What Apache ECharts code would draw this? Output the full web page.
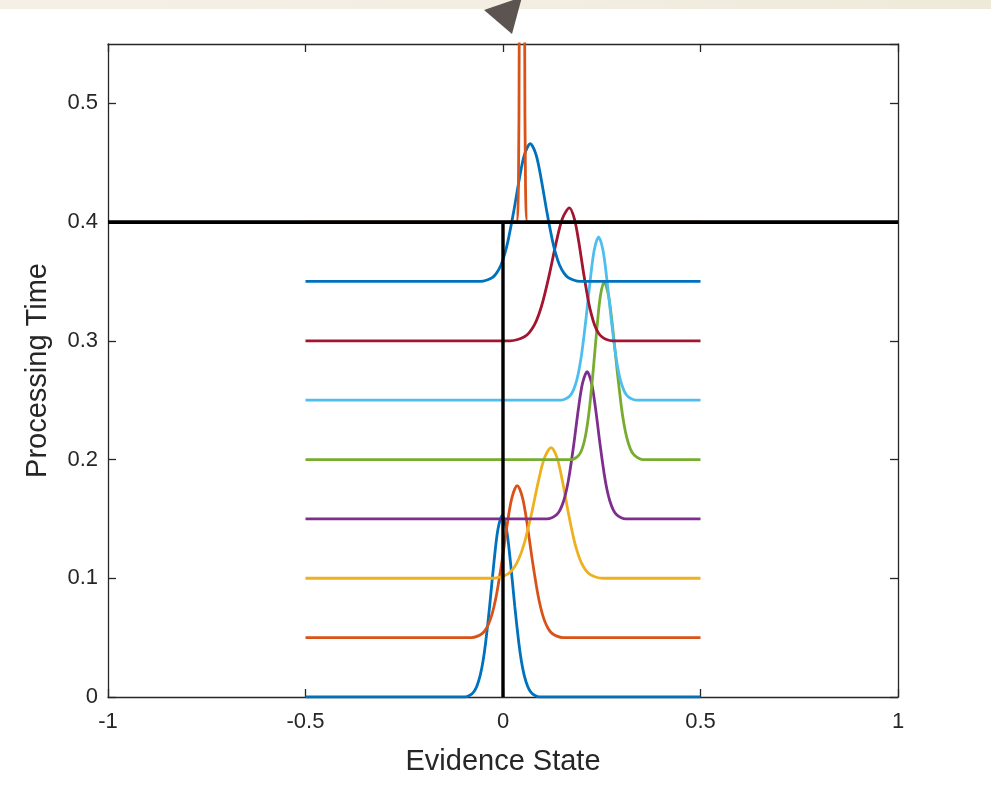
<!DOCTYPE html>
<html><head><meta charset="utf-8">
<script src="https://cdn.jsdelivr.net/npm/echarts@6/dist/echarts.min.js"></script>
<style>html,body{margin:0;padding:0;background:#fff}#c{width:991px;height:808px}</style>
</head><body><div id="c"></div>
<script>
// Axis tick values
const xTicks = [-1, -0.5, 0, 0.5, 1];
const yTicks = [0, 0.1, 0.2, 0.3, 0.4, 0.5];
const xName = 'Evidence State';
const yName = 'Processing Time';

// Evidence distributions at successive processing times (x = evidence, y = time + density)
const curveT0 = [[-0.5,0],[-0.097,0],[-0.0839,0.0015],[-0.0735,0.0046],[-0.066,0.0092],[-0.0576,0.0184],[-0.0504,0.0306],[-0.0439,0.0459],[-0.0338,0.0765],[-0.0225,0.1148],[-0.013,0.1408],[-0.002,0.153],[0.009,0.1408],[0.0185,0.1148],[0.0298,0.0765],[0.0399,0.0459],[0.0464,0.0306],[0.0536,0.0184],[0.062,0.0092],[0.0695,0.0046],[0.0799,0.0015],[0.093,0],[0.5,0]];
const curveT1 = [[-0.5,0.05],[-0.080,0.05],[-0.0642,0.0513],[-0.0514,0.0538],[-0.0423,0.0577],[-0.0319,0.0654],[-0.0232,0.0756],[-0.0152,0.0884],[-0.0028,0.114],[0.011,0.146],[0.0225,0.1678],[0.036,0.178],[0.0495,0.1678],[0.061,0.146],[0.0748,0.114],[0.0872,0.0884],[0.0952,0.0756],[0.1039,0.0654],[0.1143,0.0577],[0.1234,0.0538],[0.1362,0.0513],[0.152,0.05],[0.5,0.05]];
const curveT2 = [[-0.5,0.1],[-0.025,0.1],[-0.0055,0.1011],[0.0108,0.1033],[0.0224,0.1066],[0.0355,0.1132],[0.0467,0.122],[0.0568,0.133],[0.0726,0.155],[0.0901,0.1825],[0.1049,0.2012],[0.122,0.21],[0.1371,0.2012],[0.1501,0.1825],[0.1655,0.155],[0.1794,0.133],[0.1884,0.122],[0.1982,0.1132],[0.2098,0.1066],[0.22,0.1033],[0.2343,0.1011],[0.252,0.1],[0.5,0.1]];
const curveT3 = [[-0.5,0.15],[0.111,0.15],[0.125,0.1512],[0.1362,0.1537],[0.1442,0.1574],[0.1533,0.1649],[0.161,0.1748],[0.168,0.1872],[0.1789,0.212],[0.191,0.243],[0.2012,0.2641],[0.213,0.274],[0.2244,0.2641],[0.2343,0.243],[0.246,0.212],[0.2565,0.1872],[0.2632,0.1748],[0.2707,0.1649],[0.2794,0.1574],[0.2871,0.1537],[0.298,0.1512],[0.311,0.15],[0.5,0.15]];
const curveT4 = [[-0.5,0.2],[0.174,0.2],[0.1847,0.2015],[0.1938,0.2045],[0.2003,0.209],[0.2076,0.218],[0.2138,0.2299],[0.2195,0.2449],[0.2283,0.2748],[0.2382,0.3122],[0.2464,0.3376],[0.256,0.3496],[0.2674,0.3376],[0.2773,0.3122],[0.289,0.2748],[0.2995,0.2449],[0.3062,0.2299],[0.3137,0.218],[0.3224,0.209],[0.3301,0.2045],[0.341,0.2015],[0.354,0.2],[0.5,0.2]];
const curveT5 = [[-0.5,0.25],[0.147,0.25],[0.1601,0.2514],[0.1705,0.2541],[0.178,0.2583],[0.1864,0.2665],[0.1936,0.2775],[0.2001,0.2913],[0.2102,0.3188],[0.2215,0.3531],[0.231,0.3765],[0.242,0.3875],[0.253,0.3765],[0.2625,0.3531],[0.2738,0.3188],[0.2839,0.2913],[0.2904,0.2775],[0.2976,0.2665],[0.306,0.2583],[0.3135,0.2541],[0.3239,0.2514],[0.337,0.25],[0.5,0.25]];
const curveT6 = [[-0.5,0.3],[0.018,0.3],[0.0375,0.3011],[0.0541,0.3034],[0.066,0.3067],[0.0795,0.3134],[0.0909,0.3224],[0.1013,0.3336],[0.1174,0.356],[0.1354,0.384],[0.1505,0.403],[0.168,0.412],[0.1806,0.403],[0.1915,0.384],[0.2045,0.356],[0.2161,0.3336],[0.2236,0.3224],[0.2318,0.3134],[0.2415,0.3067],[0.2501,0.3034],[0.2621,0.3011],[0.277,0.3],[0.5,0.3]];
const curveT7 = [[-0.5,0.35],[-0.057,0.35],[-0.0403,0.3512],[-0.0263,0.3535],[-0.0164,0.357],[-0.0051,0.3639],[0.0044,0.3732],[0.0131,0.3848],[0.0266,0.408],[0.0417,0.437],[0.0543,0.4567],[0.069,0.466],[0.0837,0.4567],[0.0963,0.437],[0.1114,0.408],[0.1249,0.3848],[0.1336,0.3732],[0.1431,0.3639],[0.1544,0.357],[0.1643,0.3535],[0.1783,0.3512],[0.195,0.35],[0.5,0.35]];
const curveT8 = [[-0.5,0.4],[0.026,0.4],[0.034,0.4],[0.039,0.43],[0.041,0.55],[0.043,0.75],[0.048,0.9],[0.053,0.75],[0.055,0.55],[0.057,0.43],[0.062,0.4],[0.07,0.4],[0.5,0.4]];

// Reference lines
const timeLine = [[-1,0.4],[1,0.4]];
const zeroLine = [[0,0],[0,0.4]];

const curves = [curveT0, curveT1, curveT2, curveT3, curveT4, curveT5, curveT6, curveT7, curveT8];
const colors = ['#0072BD','#D95319','#EDB120','#7E2F8E','#77AC30','#4DBEEE','#A2142F','#0072BD','#D95319'];

const axisColor = '#262626';
const font = "'Liberation Sans', Arial, Helvetica, sans-serif";

const chart = echarts.init(document.getElementById('c'), null, {renderer: 'canvas'});

const series = curves.map((d, i) => ({
  type: 'line', data: d, smooth: 0.3, showSymbol: false, symbol: 'none',
  lineStyle: {color: colors[i], width: 2.8}, itemStyle: {color: colors[i]},
  clip: true, z: 3, silent: true
}));
series.push({type: 'line', data: timeLine, showSymbol: false, symbol: 'none',
  lineStyle: {color: '#000', width: 3.6}, z: 5, silent: true});
series.push({type: 'line', data: zeroLine, showSymbol: false, symbol: 'none',
  lineStyle: {color: '#000', width: 3.4}, z: 5, silent: true});

const baseAxis = {
  axisLine: {show: true, onZero: false, lineStyle: {color: axisColor, width: 1.3}},
  axisTick: {show: true, inside: true, length: 8, lineStyle: {color: axisColor, width: 1.3}},
  splitLine: {show: false}
};

chart.setOption({
  animation: false,
  backgroundColor: '#fff',
  grid: {left: 108, right: 93, top: 44, bottom: 111, containLabel: false},
  xAxis: [
    Object.assign({}, baseAxis, {
      type: 'value', min: xTicks[0], max: xTicks[xTicks.length-1], interval: 0.5, position: 'bottom',
      name: xName, nameLocation: 'middle', nameGap: 50,
      nameTextStyle: {fontFamily: font, fontSize: 29, color: axisColor},
      axisLabel: {show: true, margin: 14, fontFamily: font, fontSize: 22, color: axisColor,
        formatter: v => String(v)}
    }),
    Object.assign({}, baseAxis, {
      type: 'value', min: xTicks[0], max: xTicks[xTicks.length-1], interval: 0.5, position: 'top',
      axisLabel: {show: false}
    })
  ],
  yAxis: [
    Object.assign({}, baseAxis, {
      type: 'value', min: yTicks[0], max: 0.55, interval: 0.1, position: 'left',
      name: yName, nameLocation: 'middle', nameGap: 56, nameRotate: 90,
      nameTextStyle: {fontFamily: font, fontSize: 29, color: axisColor},
      axisLabel: {show: true, margin: 10, fontFamily: font, fontSize: 22, color: axisColor,
        showMaxLabel: false, formatter: v => String(Math.round(v*10)/10)}
    }),
    Object.assign({}, baseAxis, {
      type: 'value', min: yTicks[0], max: 0.55, interval: 0.1, position: 'right',
      axisLabel: {show: false}
    })
  ],
  graphic: [
    {type: 'rect', shape: {x: 0, y: 0, width: 991, height: 9}, z: 10,
      style: {fill: new echarts.graphic.LinearGradient(0, 0, 1, 0, [
        {offset: 0, color: '#f4f0e6'}, {offset: 0.5, color: '#f2eee2'}, {offset: 1, color: '#efe9d9'}])}},
    {type: 'polygon', shape: {points: [[484, 10], [522, -3], [512, 34]]}, z: 11,
      style: {fill: '#5b5451'}}
  ],
  series: series
});
</script>
</body></html>
